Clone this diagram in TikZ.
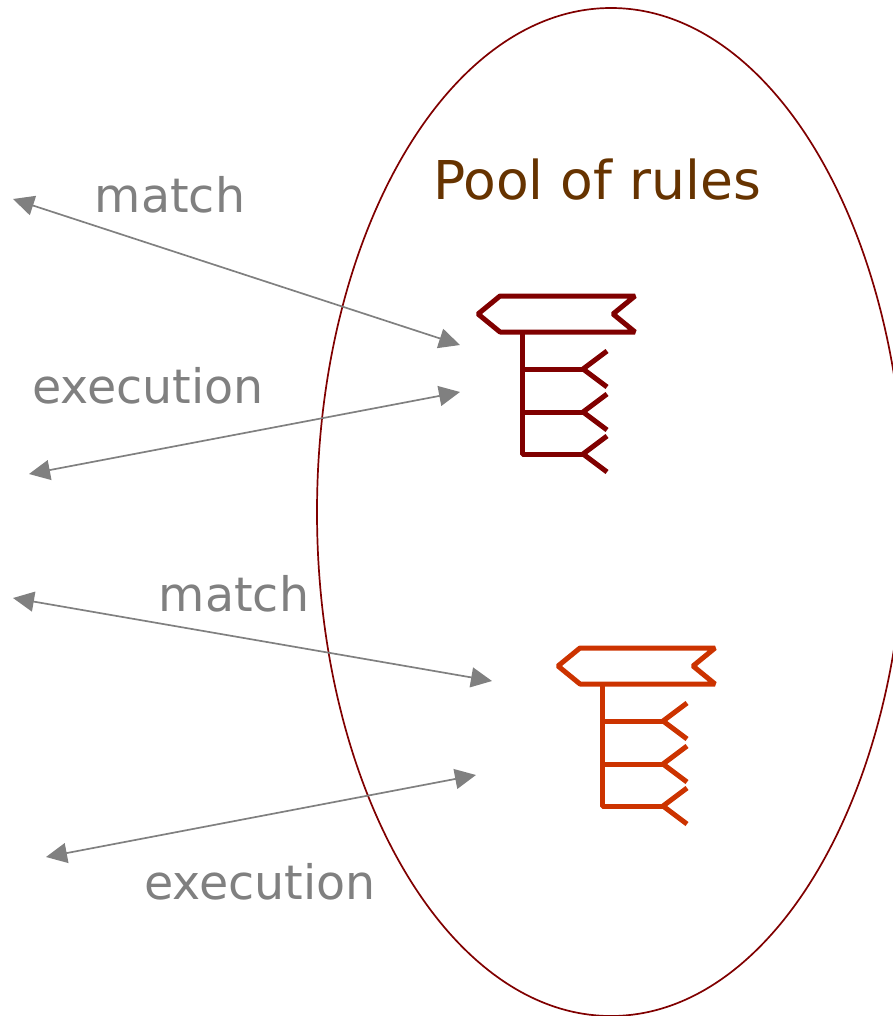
\documentclass[tikz,border=0pt]{standalone}
\usepackage{fontspec}
\setmainfont{DejaVu Sans}
\usetikzlibrary{arrows.meta}
\definecolor{dred}{HTML}{800000}
\definecolor{ored}{HTML}{CC3300}
\definecolor{brn}{HTML}{663300}
\definecolor{gry}{HTML}{808080}
\tikzset{x=1pt,y=-1pt,
 arrowline/.style={draw=gry,line width=1.7pt,{Triangle[length=21pt,width=20pt]}-{Triangle[length=21pt,width=20pt]}},
 lab/.style={text=gry,font=\fontsize{47.5}{48}\selectfont,inner sep=0pt},
 rulepart/.style={line width=5pt,line join=bevel,line cap=butt}}
\newcommand{\rulesign}[3]{%
\begin{scope}[shift={(#1,#2)}]
\draw[rulepart,draw=#3] (22,0) -- (157,0) -- (135,18) -- (157,36) -- (22,36) -- (0,18) -- cycle;
\draw[rulepart,draw=#3] (44.5,36) -- (44.5,158) -- (105,158);
\draw[rulepart,draw=#3] (44.5,73) -- (105,73) (44.5,116) -- (105,116);
\foreach \y in {73,116,158}{\draw[rulepart,draw=#3] (129,\y-18) -- (105,\y) -- (129,\y+18);}
\end{scope}}
\begin{document}
\begin{tikzpicture}
\useasboundingbox (0,0) rectangle (892,1016);
\draw[dred,line width=1.7pt] (611,512) ellipse [x radius=294,y radius=504];
\node[text=brn,font=\fontsize{53.5}{54}\selectfont,inner sep=0pt] (pool) at (597,180) {Pool of rules};
\rulesign{478}{296}{dred}
\rulesign{558}{648}{ored}
\coordinate (a1) at (13,199); \coordinate (b1) at (460,345);
\coordinate (a2) at (29,474); \coordinate (b2) at (460,392);
\coordinate (a3) at (13,598); \coordinate (b3) at (492,681);
\coordinate (a4) at (46,857); \coordinate (b4) at (476,775);
\draw[arrowline] (a1) -- (b1);
\draw[arrowline] (a2) -- (b2);
\draw[arrowline] (a3) -- (b3);
\draw[arrowline] (a4) -- (b4);
\node[lab] (m1) at (170,195) {match};
\node[lab] (e1) at (148,386) {execution};
\node[lab] (m2) at (234,594) {match};
\node[lab] (e2) at (260,882) {execution};
\end{tikzpicture}
\end{document}
